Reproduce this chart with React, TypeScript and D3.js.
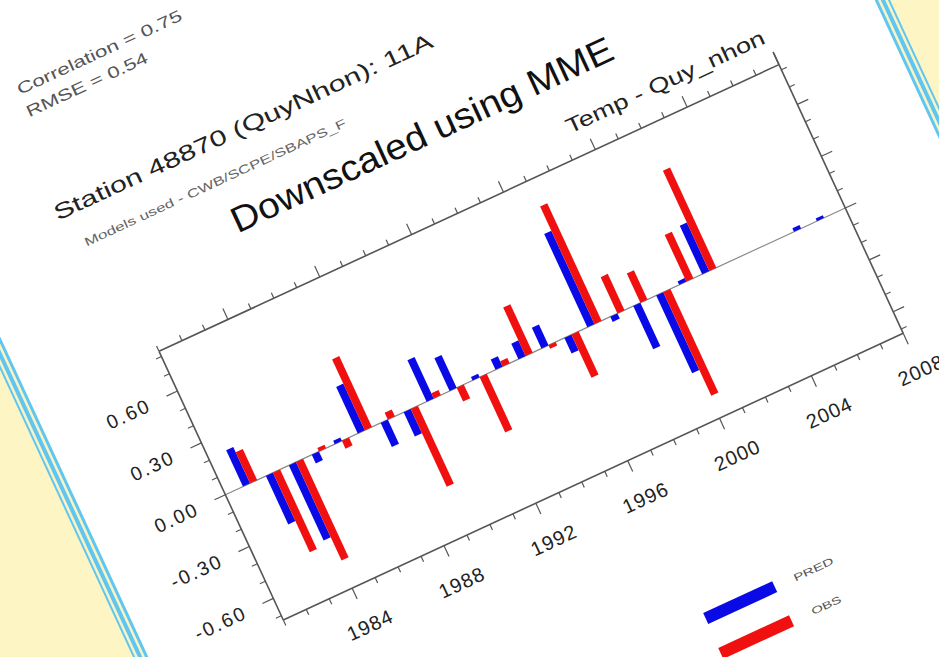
import React from 'react';
import * as d3 from 'd3';

// ---- data ----
const years = [1982, 1983, 1984, 1985, 1986, 1987, 1988, 1989, 1990, 1991, 1992, 1993, 1994,
  1995, 1996, 1997, 1998, 1999, 2000, 2001, 2002, 2003, 2004, 2005, 2006, 2007];
const predValues: (number | null)[] = [0.21, -0.28, -0.435, -0.05, 0.02, 0.27, -0.14, -0.14, 0.24, 0.19,
  0.02, 0.06, 0.09, 0.12, -0.09, 0.54, -0.03, -0.25, -0.45, 0.02, 0.28, null, null, null, 0.02, 0.015];
const obsValues: (number | null)[] = [0.18, -0.46, -0.57, 0.02, -0.045, 0.41, 0.04, -0.45, 0.03, -0.08,
  -0.32, 0.03, 0.28, -0.02, -0.25, 0.68, 0.21, 0.17, -0.6, 0.27, 0.58, null, null, null, null, null];
const xTickYears = d3.range(1981, 2009);
const xLabelYears = [1984, 1988, 1992, 1996, 2000, 2004, 2008];
const yMajorTicks = [-0.6, -0.3, 0, 0.3, 0.6];
const yTickLabels = ['-0.60', '-0.30', '0.00', '0.30', '0.60'];
const yMinorTicks = [-0.7, -0.5, -0.4, -0.2, -0.1, 0.1, 0.2, 0.4, 0.5, 0.7, 0.8];
const seriesNames = ['PRED', 'OBS'];
const titleText = 'Downscaled using MME';
const rightString = 'Temp - Quy_nhon';
const stationText = 'Station 48870 (QuyNhon): 11A';
const modelsText = 'Models used - CWB/SCPE/SBAPS_F';
const corrText = 'Correlation = 0.75';
const rmseText = 'RMSE = 0.54';

const W = 683;
const H = 296;
const BLUE = '#0a0ae6';
const RED = '#f01010';
const AXIS = '#555';
const SANS = "'Liberation Sans', Arial, sans-serif";
const ANGLE = -24.82;
const ORIGIN_X = 283.3;
const ORIGIN_Y = 620;

export default function App() {
  const x = d3.scaleLinear().domain([1981, 2008]).range([0, W]);
  const y = d3.scaleLinear().domain([-0.725, 0.83]).range([H, 0]);
  const bw = x(1981.31) - x(1981);
  const y0 = y(0);

  const barRect = (key: string, cx: number, v: number, color: string) => {
    const h = Math.max(Math.abs(y(v) - y0), 3);
    const yy = v >= 0 ? y0 - h : y0;
    return <rect key={key} x={cx - bw / 2} y={yy} width={bw} height={h} fill={color} />;
  };

  const bars: React.ReactNode[] = [];
  years.forEach((yr, i) => {
    const p = predValues[i];
    if (p != null) bars.push(barRect('p' + yr, x(yr - 0.08), p, BLUE));
  });
  years.forEach((yr, i) => {
    const o = obsValues[i];
    if (o != null) bars.push(barRect('o' + yr, x(yr + 0.23), o, RED));
  });

  const pageL = -138;
  const pageR = 797;
  const stripes = [
    { off: 14, c: '#5fc6f2' },
    { off: 12, c: '#fbf3c2' },
    { off: 9.5, c: '#5fc6f2' },
    { off: 5.5, c: '#fbf3c2' },
    { off: 3, c: '#5fc6f2' },
    { off: 0, c: '#ffffff' },
  ];

  const majLen = 12;
  const minLen = 6;

  // map a chart-local point to screen, so labels can carry their own explicit rotation
  const rad = (ANGLE * Math.PI) / 180;
  const toScreen = (px: number, py: number) => {
    const ly = py - H;
    return [ORIGIN_X + px * Math.cos(rad) - ly * Math.sin(rad), ORIGIN_Y + px * Math.sin(rad) + ly * Math.cos(rad)];
  };
  const label = (key: string, px: number, py: number, txt: string, anchor: string, size: number, spacing: number) => {
    const [sx, sy] = toScreen(px, py);
    return (
      <text key={key} transform={`translate(${sx.toFixed(2)},${sy.toFixed(2)}) rotate(${ANGLE})`} textAnchor={anchor}
        fontFamily={SANS} fontSize={size} fill="#222" letterSpacing={spacing}>{txt}</text>
    );
  };

  return (
    <svg width={939} height={657} style={{ position: 'absolute', left: 0, top: 0 }}>
      <rect x={0} y={0} width={939} height={657} fill="#fdf5c4" />
      <g transform={`translate(${ORIGIN_X},${ORIGIN_Y}) rotate(${ANGLE}) translate(0,${-H})`}>
        {stripes.map((s, i) => (
          <rect key={'s' + i} x={pageL - s.off} y={-1500} width={pageR - pageL + 2 * s.off} height={3000} fill={s.c} />
        ))}

        {/* header texts */}
        <text x={-18.7} y={-291} fontFamily={SANS} fontSize={16} fill="#555" textLength={180} lengthAdjust="spacingAndGlyphs">{corrText}</text>
        <text x={-19.4} y={-267} fontFamily={SANS} fontSize={16} fill="#555" textLength={132} lengthAdjust="spacingAndGlyphs">{rmseText}</text>
        <text x={-37} y={-161} fontFamily={SANS} fontSize={22} fill="#222" textLength={415} lengthAdjust="spacingAndGlyphs">{stationText}</text>
        <text x={-21.7} y={-125.5} fontFamily={SANS} fontSize={12} fill="#666" textLength={287} lengthAdjust="spacingAndGlyphs">{modelsText}</text>
        <text x={121} y={-74} fontFamily={SANS} fontSize={36} fill="#111" textLength={417} lengthAdjust="spacingAndGlyphs">{titleText}</text>
        <text x={681} y={-25} textAnchor="end" fontFamily={SANS} fontSize={21} fill="#222" textLength={217} lengthAdjust="spacingAndGlyphs">{rightString}</text>

        {/* zero reference line */}
        <line x1={0} x2={W} y1={y0} y2={y0} stroke="#888" strokeWidth={1.2} />

        {bars}

        {/* frame */}
        <line x1={0} x2={W} y1={H} y2={H} stroke={AXIS} strokeWidth={1.6} />
        <line x1={0} x2={W} y1={0} y2={0} stroke={AXIS} strokeWidth={1.6} />
        <line x1={0} x2={0} y1={0} y2={H} stroke={AXIS} strokeWidth={1.6} />
        <line x1={W} x2={W} y1={-14} y2={H} stroke={AXIS} strokeWidth={1.6} />

        {/* x ticks bottom & top */}
        {xTickYears.map((yr) => {
          const isMaj = xLabelYears.includes(yr);
          const L = isMaj ? majLen : minLen;
          return (
            <g key={'xt' + yr}>
              <line x1={x(yr)} x2={x(yr)} y1={H} y2={H + L} stroke={AXIS} strokeWidth={1.2} />
              <line x1={x(yr)} x2={x(yr)} y1={0} y2={-L} stroke={AXIS} strokeWidth={1.2} />
            </g>
          );
        })}

        {/* y ticks left & right */}
        {yMajorTicks.map((v) => (
          <g key={'ym' + v}>
            <line x1={0} x2={-majLen} y1={y(v)} y2={y(v)} stroke={AXIS} strokeWidth={1.2} />
            <line x1={W} x2={W + majLen} y1={y(v)} y2={y(v)} stroke={AXIS} strokeWidth={1.2} />
          </g>
        ))}
        {yMinorTicks.map((v) => (
          <g key={'yn' + v}>
            <line x1={0} x2={-minLen} y1={y(v)} y2={y(v)} stroke={AXIS} strokeWidth={1.1} />
            <line x1={W} x2={W + minLen} y1={y(v)} y2={y(v)} stroke={AXIS} strokeWidth={1.1} />
          </g>
        ))}

        {/* legend */}
        <line x1={384} x2={460} y1={H + 176} y2={H + 176} stroke={BLUE} strokeWidth={12} />
        <line x1={383} x2={461} y1={H + 214} y2={H + 214} stroke={RED} strokeWidth={12} />
        <text x={481} y={H + 180} fontFamily={SANS} fontSize={10} fill="#555" textLength={43} lengthAdjust="spacingAndGlyphs">{seriesNames[0]}</text>
        <text x={483} y={H + 218} fontFamily={SANS} fontSize={10} fill="#555" textLength={32} lengthAdjust="spacingAndGlyphs">{seriesNames[1]}</text>
      </g>

      {/* tick labels, each with its own explicit rotation */}
      {xLabelYears.map((yr) => label('xl' + yr, x(yr) + 0.75, H + 48, String(yr), 'middle', 20, 1))}
      {yMajorTicks.map((v, i) => label('yl' + v, -30.5, y(v) + 7, yTickLabels[i], 'end', 19.5, 2.2))}
    </svg>
  );
}
